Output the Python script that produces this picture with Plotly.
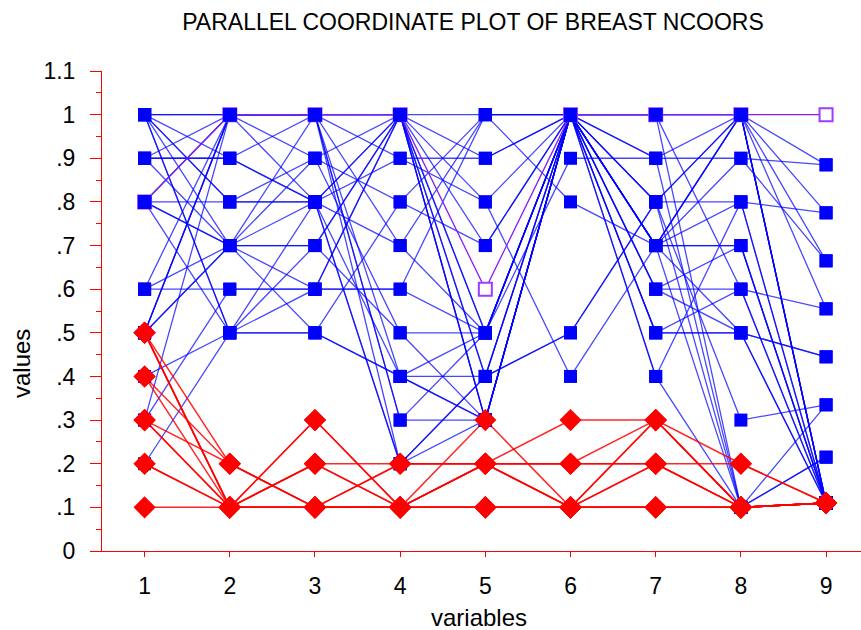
import plotly.graph_objects as go

# Variable indices on the horizontal axis
variables = [1, 2, 3, 4, 5, 6, 7, 8, 9]

# Scaled values of each observation, one list per observation (9 variables)
malignant_rows = [
    [1.0, 1.0, 1.0, 1.0, 1.0, 1.0, 1.0, 1.0, 0.775],
    [1.0, 0.9, 1.0, 1.0, 0.3, 1.0, 0.7, 1.0, 0.11],
    [1.0, 0.8, 0.8, 1.0, 0.8, 1.0, 0.9, 1.0, 0.11],
    [1.0, 0.7, 0.7, 1.0, 0.5, 1.0, 0.8, 1.0, 0.555],
    [1.0, 0.5, 0.5, 0.4, 0.4, 1.0, 0.6, 0.6, 0.555],
    [0.9, 0.9, 0.8, 0.4, 0.3, 1.0, 1.0, 1.0, 0.11],
    [0.9, 1.0, 1.0, 0.3, 0.5, 1.0, 0.7, 0.8, 0.11],
    [0.9, 0.7, 0.9, 1.0, 0.3, 1.0, 0.5, 0.5, 0.445],
    [0.8, 0.8, 0.8, 0.2, 0.3, 1.0, 0.7, 1.0, 0.11],
    [0.8, 0.7, 0.7, 0.5, 0.5, 1.0, 0.4, 0.8, 0.11],
    [0.8, 1.0, 1.0, 0.2, 0.4, 1.0, 0.7, 0.1, 0.335],
    [0.8, 1.0, 1.0, 0.9, 0.8, 0.4, 0.7, 0.7, 0.11],
    [0.6, 0.6, 0.6, 0.6, 0.5, 1.0, 0.5, 0.5, 0.11],
    [0.6, 1.0, 1.0, 0.3, 0.3, 1.0, 0.8, 1.0, 0.885],
    [0.5, 1.0, 1.0, 0.4, 0.3, 1.0, 1.0, 0.1, 0.11],
    [0.5, 1.0, 0.8, 1.0, 0.4, 1.0, 0.7, 0.7, 0.11],
    [0.5, 1.0, 1.0, 1.0, 0.3, 1.0, 0.9, 0.1, 0.11],
    [0.5, 0.7, 0.5, 0.4, 0.5, 0.9, 0.9, 0.9, 0.665],
    [0.4, 0.5, 0.6, 1.0, 0.7, 1.0, 0.6, 0.5, 0.11],
    [0.3, 1.0, 0.9, 0.5, 0.3, 1.0, 0.4, 0.1, 0.215],
    [0.3, 0.6, 0.6, 0.6, 1.0, 1.0, 0.8, 0.3, 0.335],
    [0.2, 0.5, 0.8, 0.9, 0.9, 1.0, 1.0, 0.6, 0.11],
    [1.0, 0.8, 0.9, 0.8, 0.7, 1.0, 0.7, 0.5, 0.445],
    [1.0, 0.5, 0.7, 1.0, 0.5, 1.0, 0.6, 0.7, 0.11],
    [0.9, 0.9, 0.8, 0.7, 0.5, 1.0, 0.5, 0.6, 0.11],
    [0.8, 0.5, 0.5, 0.8, 1.0, 0.8, 0.7, 1.0, 0.11],
    [1.0, 1.0, 1.0, 1.0, 0.4, 0.5, 0.8, 0.8, 0.775],
    [0.6, 0.7, 0.8, 0.2, 0.4, 0.5, 0.8, 0.1, 0.215],
    [0.5, 0.7, 1.0, 0.7, 1.0, 1.0, 1.0, 1.0, 0.665],
    [0.8, 0.7, 0.6, 1.0, 0.9, 1.0, 0.7, 0.9, 0.885],
]

benign_rows = [
    [0.1, 0.1, 0.1, 0.1, 0.1, 0.1, 0.1, 0.1, 0.11],
    [0.2, 0.1, 0.1, 0.2, 0.2, 0.3, 0.3, 0.2, 0.11],
    [0.2, 0.1, 0.3, 0.1, 0.3, 0.1, 0.3, 0.1, 0.11],
    [0.3, 0.1, 0.2, 0.2, 0.2, 0.2, 0.3, 0.1, 0.11],
    [0.3, 0.1, 0.1, 0.1, 0.1, 0.1, 0.1, 0.1, 0.11],
    [0.3, 0.2, 0.1, 0.1, 0.1, 0.1, 0.1, 0.1, 0.11],
    [0.4, 0.1, 0.2, 0.1, 0.2, 0.2, 0.2, 0.2, 0.11],
    [0.4, 0.2, 0.1, 0.2, 0.2, 0.2, 0.2, 0.1, 0.11],
    [0.5, 0.1, 0.3, 0.1, 0.2, 0.1, 0.3, 0.1, 0.11],
    [0.5, 0.1, 0.1, 0.1, 0.1, 0.1, 0.1, 0.1, 0.11],
    [0.5, 0.1, 0.2, 0.1, 0.2, 0.1, 0.2, 0.1, 0.11],
    [0.5, 0.2, 0.1, 0.1, 0.2, 0.1, 0.2, 0.1, 0.11],
]

# A single highlighted observation
highlight_row = [0.8, 1.0, 1.0, 1.0, 0.6, 1.0, 1.0, 1.0, 1.0]

y_tick_vals = [0.0, 0.1, 0.2, 0.3, 0.4, 0.5, 0.6, 0.7, 0.8, 0.9, 1.0, 1.1]
y_tick_text = ["0", ".1", ".2", ".3", ".4", ".5", ".6", ".7", ".8", ".9", "1", "1.1"]

BLUE = "#0000ff"
RED = "#ff0000"
PURPLE = "#8a1cf0"
FONT = "Liberation Sans, Arial, sans-serif"

fig = go.Figure()

# polylines, one trace per observation so overlapping strokes build up
for row in malignant_rows:
    fig.add_trace(go.Scatter(x=variables, y=row, mode="lines",
                             line=dict(color="rgba(0,0,255,0.72)", width=1.3),
                             hoverinfo="skip", showlegend=False))
fig.add_trace(go.Scatter(x=variables, y=highlight_row, mode="lines",
                         line=dict(color=PURPLE, width=1.3),
                         hoverinfo="skip", showlegend=False))
for row in benign_rows:
    fig.add_trace(go.Scatter(x=variables, y=row, mode="lines",
                             line=dict(color="rgba(255,0,0,0.85)", width=1.5),
                             hoverinfo="skip", showlegend=False))


def stacked(rows):
    xs, ys = [], []
    for row in rows:
        xs.extend(variables)
        ys.extend(row)
    return xs, ys


# markers: highlighted (open), then malignant squares, then benign diamonds
hx, hy = stacked([highlight_row])
fig.add_trace(go.Scatter(x=hx, y=hy, mode="markers",
                         marker=dict(symbol="square", size=13, color="white",
                                     line=dict(color="#9b3cff", width=2)),
                         hoverinfo="skip", showlegend=False))
mx, my = stacked(malignant_rows)
fig.add_trace(go.Scatter(x=mx, y=my, mode="markers",
                         marker=dict(symbol="square", size=13, color=BLUE,
                                     line=dict(width=0)),
                         hoverinfo="skip", showlegend=False))
bx, by = stacked(benign_rows)
fig.add_trace(go.Scatter(x=bx, y=by, mode="markers",
                         marker=dict(symbol="diamond", size=17, color=RED,
                                     line=dict(width=0)),
                         hoverinfo="skip", showlegend=False))

fig.update_layout(
    width=861, height=630,
    margin=dict(l=102, r=0, t=71, b=79),
    paper_bgcolor="white", plot_bgcolor="white",
    font=dict(family=FONT, color="black"),
    title=dict(text="PARALLEL COORDINATE PLOT OF BREAST NCOORS",
               x=473 / 861, xanchor="center", y=1 - 22 / 630, yanchor="middle",
               xref="container", yref="container",
               font=dict(family=FONT, size=23, color="black")),
    xaxis=dict(range=[0.5, 9.41], tickmode="array", tickvals=variables,
               ticktext=[str(v) for v in variables],
               showgrid=False, zeroline=False,
               showline=True, linecolor=RED, linewidth=1,
               ticks="outside", ticklen=5, tickcolor=RED, tickwidth=1,
               ticklabelstandoff=9,
               tickfont=dict(family=FONT, size=23, color="black")),
    yaxis=dict(range=[0, 1.1], tickmode="array", tickvals=y_tick_vals,
               ticktext=y_tick_text,
               showgrid=False, zeroline=False,
               showline=True, linecolor=RED, linewidth=1,
               ticks="outside", ticklen=11, tickcolor=RED, tickwidth=1,
               ticklabelstandoff=10,
               minor=dict(ticks="outside", ticklen=5, tickcolor=RED,
                          tick0=0, dtick=0.05, showgrid=False),
               tickfont=dict(family=FONT, size=23, color="black")),
    annotations=[
        dict(text="values", xref="paper", yref="paper",
             x=(21 - 102) / 759, y=(551 - 364) / 480, textangle=-90,
             showarrow=False, xanchor="center", yanchor="middle",
             font=dict(family=FONT, size=24, color="black")),
        dict(text="variables", xref="paper", yref="paper",
             x=(479 - 102) / 759, y=(551 - 617) / 480,
             showarrow=False, xanchor="center", yanchor="middle",
             font=dict(family=FONT, size=24, color="black")),
    ],
)

fig.write_html("out.html")
